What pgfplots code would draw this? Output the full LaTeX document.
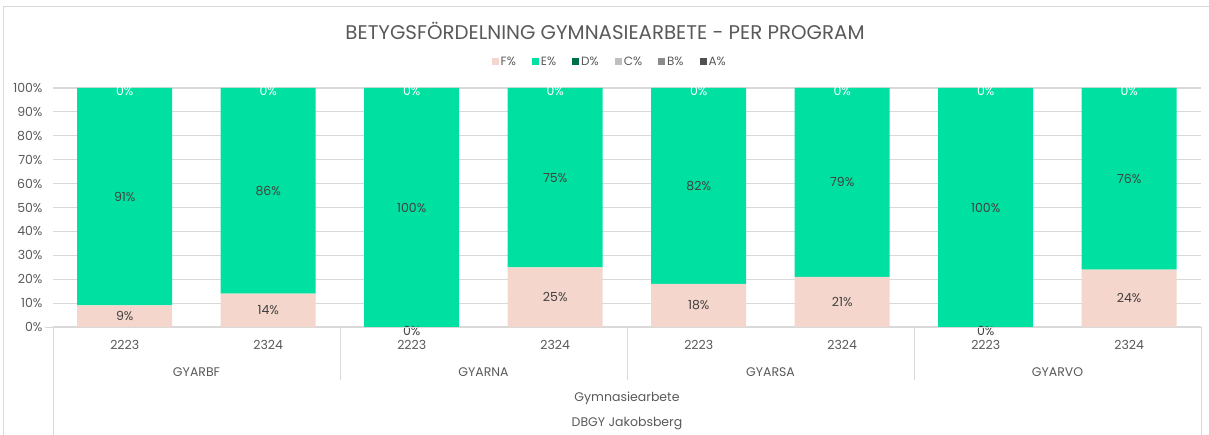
\documentclass[border=0pt]{standalone}
\usepackage{pgfplots}
\pgfplotsset{compat=1.18}
\usepackage{fontspec}
\setmainfont{Poppins}
\definecolor{gE}{RGB}{0,224,160}
\definecolor{pF}{RGB}{245,214,204}
\definecolor{gD}{RGB}{0,110,68}
\definecolor{gC}{RGB}{191,191,191}
\definecolor{gB}{RGB}{140,140,140}
\definecolor{gA}{RGB}{80,80,80}
\definecolor{txt}{RGB}{89,89,89}
\definecolor{lbl}{RGB}{64,64,64}
\definecolor{gridc}{RGB}{217,217,217}

\begin{document}
\begin{tikzpicture}[x=1pt,y=1pt]
\useasboundingbox (-53,-107) rectangle (1156,327);
\draw[gridc, line width=1pt] (-49,-130) -- (-49,320) -- (1180,320);
\begin{axis}[
  at={(0,0)}, anchor=south west,
  scale only axis, width=1148pt, height=239pt,
  ybar stacked, bar width=95pt, clip=false,
  xmin=-0.5, xmax=7.5, ymin=0, ymax=100,
  xtick={0,...,7},
  xticklabels={2223,2324,2223,2324,2223,2324,2223,2324},
  ytick={0,10,...,100},
  yticklabels={0\%,10\%,20\%,30\%,40\%,50\%,60\%,70\%,80\%,90\%,100\%},
  major tick length=0pt,
  axis line style={draw=none},
  ymajorgrids, grid style={gridc, line width=1.2pt},
  tick label style={font=\fontsize{12.5}{14}\selectfont, text=txt},
  yticklabel style={xshift=-7pt},
  xticklabel style={anchor=center, yshift=-18pt},
  /pgf/number format/assume math mode=true,
  point meta=rawy,
  nodes near coords={\pgfmathprintnumber{\pgfplotspointmeta}\%},
  every node near coord/.append style={anchor=center,
    font=\fontsize{12.5}{14}\selectfont, text=lbl},
  legend style={at={(0.485,1.109)}, anchor=center, draw=none, fill=none,
    legend columns=6, font=\fontsize{12}{14}\selectfont, text=txt,
    /tikz/every even column/.append style={column sep=14pt}},
  legend image code/.code={\fill[#1] (0pt,-3.5pt) rectangle (7pt,3.5pt);},
]
\addplot[fill=pF, draw=none] coordinates {
  (0,9) (1,14) (2,0) (3,25) (4,18) (5,21) (6,0) (7,24)};
\addplot[fill=gE, draw=none] coordinates {
  (0,91) (1,86) (2,100) (3,75) (4,82) (5,79) (6,100) (7,76)};
\addplot[fill=gD, draw=none, nodes near coords={}] coordinates {
  (0,0) (1,0) (2,0) (3,0) (4,0) (5,0) (6,0) (7,0)};
\addplot[fill=gC, draw=none, nodes near coords={}] coordinates {
  (0,0) (1,0) (2,0) (3,0) (4,0) (5,0) (6,0) (7,0)};
\addplot[fill=gB, draw=none, nodes near coords={}] coordinates {
  (0,0) (1,0) (2,0) (3,0) (4,0) (5,0) (6,0) (7,0)};
\addplot[fill=gA, draw=none, nodes near coords={}] coordinates {
  (0,0) (1,0) (2,0) (3,0) (4,0) (5,0) (6,0) (7,0)};
\legend{F\%, E\%, D\%, C\%, B\%, A\%}
\end{axis}
% labels of the zero-height segments (same axis frame, not stacked)
\begin{axis}[
  at={(0,0)}, anchor=south west,
  scale only axis, width=1148pt, height=239pt,
  xmin=-0.5, xmax=7.5, ymin=0, ymax=100,
  hide axis, clip=false,
  point meta=explicit symbolic,
  nodes near coords,
  every node near coord/.append style={anchor=center,
    font=\fontsize{12.5}{14}\selectfont},
]
\addplot[draw=none, mark=none,
  every node near coord/.append style={text=lbl, yshift=-4pt}] coordinates {
  (2,0) [0\%] (6,0) [0\%]};
\addplot[draw=none, mark=none,
  every node near coord/.append style={text=white, yshift=-2.5pt}] coordinates {
  (0,100) [0\%] (1,100) [0\%] (2,100) [0\%] (3,100) [0\%]
  (4,100) [0\%] (5,100) [0\%] (6,100) [0\%] (7,100) [0\%]};
\end{axis}
% category frame below the plot
\draw[gridc, line width=1pt] (-8,0) -- (1148,0);
\draw[gridc, line width=1pt] (0,0) -- (0,-110);
\draw[gridc, line width=1pt] (1148,0) -- (1148,-110);
\foreach \s in {287,574,861} \draw[gridc, line width=1pt] (\s,0) -- (\s,-53);
\foreach \g/\n in {143.5/GYARBF,430.5/GYARNA,717.5/GYARSA,1004.5/GYARVO}
  \node[text=txt, font=\fontsize{12.5}{14}\selectfont] at (\g,-45) {\n};
\node[text=txt, font=\fontsize{12.5}{14}\selectfont] at (574,-71) {Gymnasiearbete};
\node[text=txt, font=\fontsize{12.5}{14}\selectfont] at (574,-97) {DBGY Jakobsberg};
\node[text=txt, font=\fontsize{19.8}{23}\selectfont] at (552,296) {BETYGSFÖRDELNING GYMNASIEARBETE - PER PROGRAM};
\end{tikzpicture}
\end{document}
